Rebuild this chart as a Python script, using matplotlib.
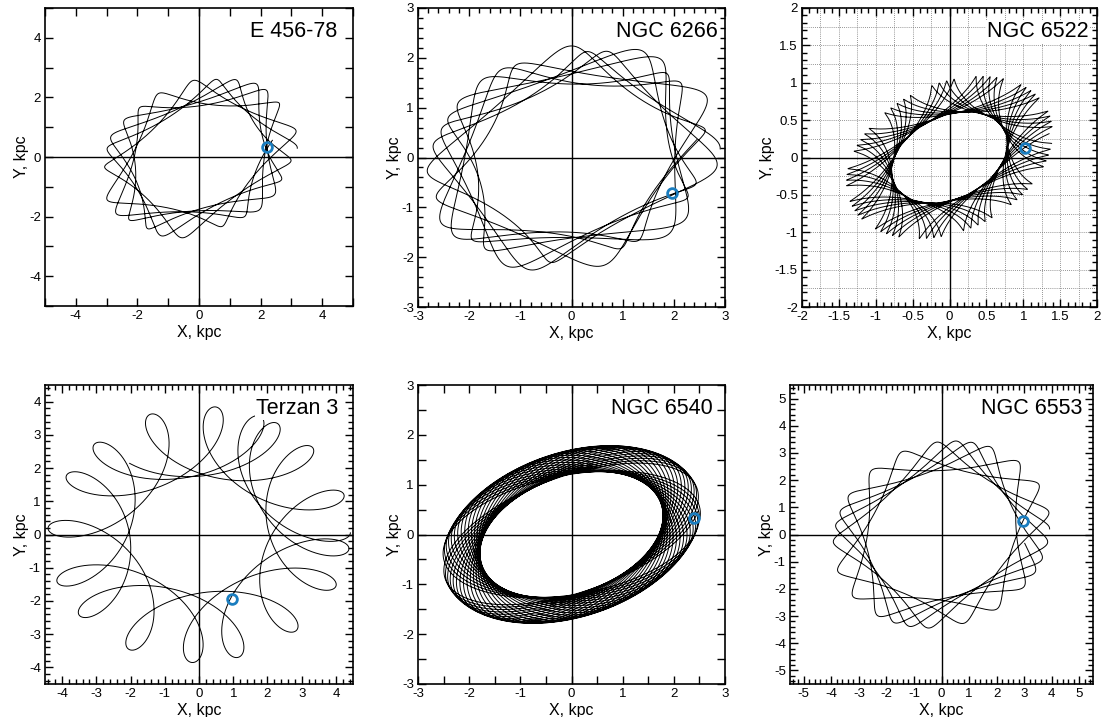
import numpy as np
import matplotlib
matplotlib.use('Agg')
import matplotlib.pyplot as plt
from matplotlib.ticker import MultipleLocator, FuncFormatter

plt.rcParams['font.family'] = ['Liberation Sans', 'DejaVu Sans']
plt.rcParams['axes.unicode_minus'] = False

# cluster names and axis setup per panel
names = ['E 456-78', 'NGC 6266', 'NGC 6522', 'Terzan 3', 'NGC 6540', 'NGC 6553']
limits = [5, 3, 2, 4.5, 3, 5.5]
major_steps = [2, 1, 0.5, 1, 1, 1]
minor_steps = [1, 0.2, 0.1, 0.2, 0.5, 0.2]
has_grid = [False, False, True, False, False, False]
name_x = [0.948, 0.977, 0.97, 0.951, 0.961, 0.964]

# present positions of the clusters (blue circles), kpc
now_x = [2.2, 1.97, 1.02, 0.97, 2.4, 2.95]
now_y = [0.35, -0.72, 0.13, -1.95, 0.33, 0.48]

# orbit shape: guiding radius, two epicycles
# (radius, frequency), revolutions, stretch along / across the bar, bar tilt
amp_main = [2.1, 2.0, 0.85, 2.8, 1.75, 2.7]
amp_epi = [0.4, 0.34, 0.24, 1.05, 0.3, 0.5]
epi_freq = [-3.28, -3.22, -3.35, -4.37, -1.03, -3.22]
amp_epi2 = [0.06, 0.12, 0.0, 0.0, 0.0, 0.0]
epi2_freq = [2.6, 2.6, 0.0, 0.0, 0.0, 0.0]
n_rev = [6, 8, 14, 3.3, 30, 6]
stretch_long = [1.3, 1.2, 1.35, 1.15, 1.28, 1.25]
stretch_short = [1.0, 0.92, 0.9, 1.0, 0.8, 1.05]
tilt_deg = [25, 15, 25, 5, 20, 20]

# panel boxes in pixels: left, top, right, bottom
boxes = [(45, 8, 353, 306), (418, 8, 725, 307), (802, 8, 1097, 307),
         (45, 385, 353, 684), (418, 385, 725, 684), (790, 385, 1093, 684)]

W, H = 1101, 717
fig = plt.figure(figsize=(W / 100, H / 100), dpi=100)


def orbit(i):
    t = np.linspace(0, 2 * np.pi * n_rev[i], int(3000 * n_rev[i]))
    z = (amp_main[i] * np.exp(1j * t)
         + amp_epi[i] * np.exp(1j * epi_freq[i] * t)
         + amp_epi2[i] * np.exp(1j * epi2_freq[i] * t))
    rot = np.exp(1j * np.deg2rad(tilt_deg[i]))
    w = z / rot
    w = stretch_long[i] * w.real + 1j * stretch_short[i] * w.imag
    w = w * rot
    return w.real, w.imag


fmt = FuncFormatter(lambda v, p: '%g' % v)

for i in range(6):
    l, t, r, b = boxes[i]
    ax = fig.add_axes([l / W, 1 - b / H, (r - l) / W, (b - t) / H])
    lim = limits[i]
    ax.set_xlim(-lim, lim)
    ax.set_ylim(-lim, lim)

    if has_grid[i]:
        for g in np.arange(-lim + 0.25, lim, 0.25):
            ax.axvline(g, color='0.45', lw=0.6, ls=(0, (1, 1.5)), zorder=0)
            ax.axhline(g, color='0.45', lw=0.6, ls=(0, (1, 1.5)), zorder=0)

    ax.axhline(0, color='black', lw=1.0, zorder=1)
    ax.axvline(0, color='black', lw=1.0, zorder=1)

    x, y = orbit(i)
    ax.plot(x, y, color='black', lw=0.7, zorder=2)
    ax.plot(now_x[i], now_y[i], 'o', ms=7, mfc='none', mec='#1a7dbf', mew=2, zorder=3)

    ax.xaxis.set_major_locator(MultipleLocator(major_steps[i]))
    ax.yaxis.set_major_locator(MultipleLocator(major_steps[i]))
    ax.xaxis.set_minor_locator(MultipleLocator(minor_steps[i]))
    ax.yaxis.set_minor_locator(MultipleLocator(minor_steps[i]))
    ax.xaxis.set_major_formatter(fmt)
    ax.yaxis.set_major_formatter(fmt)
    minor_len = 6 if minor_steps[i] * 2 >= major_steps[i] else 3.5
    ax.tick_params(which='major', direction='in', top=True, right=True,
                   length=6, width=1, labelsize=9.5, pad=3)
    ax.tick_params(which='minor', direction='in', top=True, right=True,
                   length=minor_len, width=1)
    for s in ax.spines.values():
        s.set_linewidth(1.2)

    ax.set_xlabel('X, kpc', fontsize=11.5, labelpad=2)
    ax.set_ylabel('Y, kpc', fontsize=11.5, labelpad=0)

    ax.text(name_x[i], 0.955, names[i], transform=ax.transAxes, ha='right', va='top',
            fontsize=15.5, zorder=4,
            bbox=dict(facecolor='white', edgecolor='none', pad=0.5))

fig.savefig('out.png', dpi=100)
